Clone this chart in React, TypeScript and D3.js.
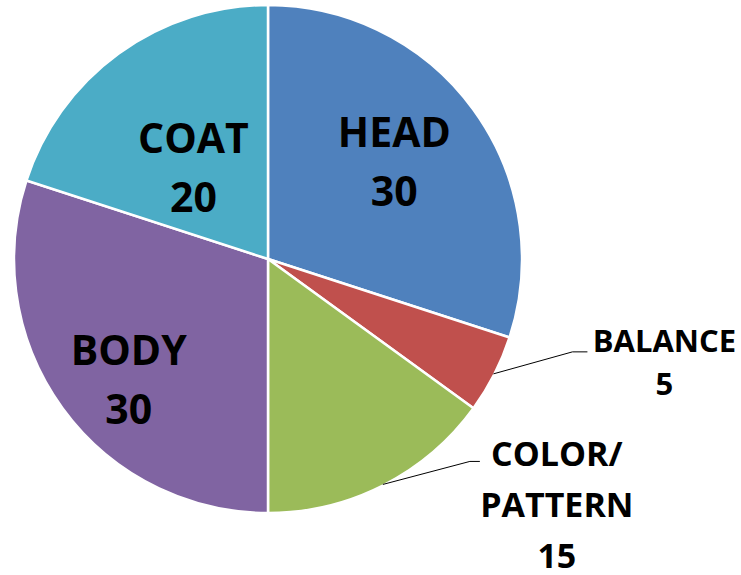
import * as d3 from "d3";

const categories = ["HEAD", "BALANCE", "COLOR/PATTERN", "BODY", "COAT"];
const values = [30, 5, 15, 30, 20];
const colors = ["#4F81BD", "#C0504D", "#9BBB59", "#8064A2", "#4BACC6"];
// label text lines per slice (name split where the original wraps)
const labelLines = [["HEAD"], ["BALANCE"], ["COLOR/", "PATTERN"], ["BODY"], ["COAT"]];

const width = 741;
const height = 575;
const cx = 268;
const cy = 259;
const radius = 254;

// layout tweaks for labels (Excel "best fit" style placement)
const inside: Record<string, { dx: number; dy: number }> = {
  HEAD: { dx: 3, dy: -7 },
  COAT: { dx: 15, dy: 32 },
  BODY: { dx: -16, dy: 31 },
};
const outside: Record<
  string,
  { elbow: [number, number]; end: [number, number]; tx: number; size: number; lh: number; base: number }
> = {
  BALANCE: { elbow: [79, -22], end: [94, -22], tx: 171, size: 31, lh: 43, base: -22 },
  "COLOR/PATTERN": { elbow: [87, -23], end: [97, -23], tx: 174, size: 34, lh: 51, base: -18 },
};

const polar = (a: number, r: number): [number, number] => [
  cx + r * Math.sin(a),
  cy - r * Math.cos(a),
];

export default function App() {
  const data = categories.map((c, i) => ({ name: c, value: values[i], color: colors[i], lines: labelLines[i] }));
  const pie = d3.pie<(typeof data)[number]>().value((d) => d.value).sort(null);
  const arcs = pie(data);
  const arc = d3.arc<d3.PieArcDatum<(typeof data)[number]>>().innerRadius(0).outerRadius(radius);

  return (
    <svg
      width={width}
      height={height}
      style={{ position: "absolute", left: 0, top: 0, background: "#fff" }}
      fontFamily="'Open Sans', Calibri, sans-serif"
      fontWeight="bold"
    >
      <g transform={`translate(${cx},${cy})`}>
        {arcs.map((a) => (
          <path key={a.data.name} d={arc(a) ?? ""} fill={a.data.color} stroke="#fff" strokeWidth={2.5} />
        ))}
      </g>
      {arcs.map((a) => {
        const mid = (a.startAngle + a.endAngle) / 2;
        const inn = inside[a.data.name];
        if (inn) {
          const [px, py] = polar(mid, radius * 0.6);
          const x = px + inn.dx;
          const y = py + inn.dy;
          return (
            <text key={a.data.name} x={x} y={y} textAnchor="middle" fontSize={41} fill="#000">
              <tspan x={x} dy={-15}>{a.data.lines[0]}</tspan>
              <tspan x={x} dy={59}>{a.data.value}</tspan>
            </text>
          );
        }
        const o = outside[a.data.name];
        const [ex, ey] = polar(mid, radius - 1);
        const x = ex + o.tx;
        const lines = [...a.data.lines, String(a.data.value)];
        return (
          <g key={a.data.name}>
            <polyline
              points={`${ex},${ey} ${ex + o.elbow[0]},${ey + o.elbow[1]} ${ex + o.end[0]},${ey + o.end[1]}`}
              fill="none"
              stroke="#000"
              strokeWidth={1}
            />
            <text x={x} y={ey + o.base} textAnchor="middle" fontSize={o.size} fill="#000">
              {lines.map((l, i) => (
                <tspan key={i} x={x} dy={i === 0 ? 0 : o.lh}>
                  {l}
                </tspan>
              ))}
            </text>
          </g>
        );
      })}
    </svg>
  );
}
